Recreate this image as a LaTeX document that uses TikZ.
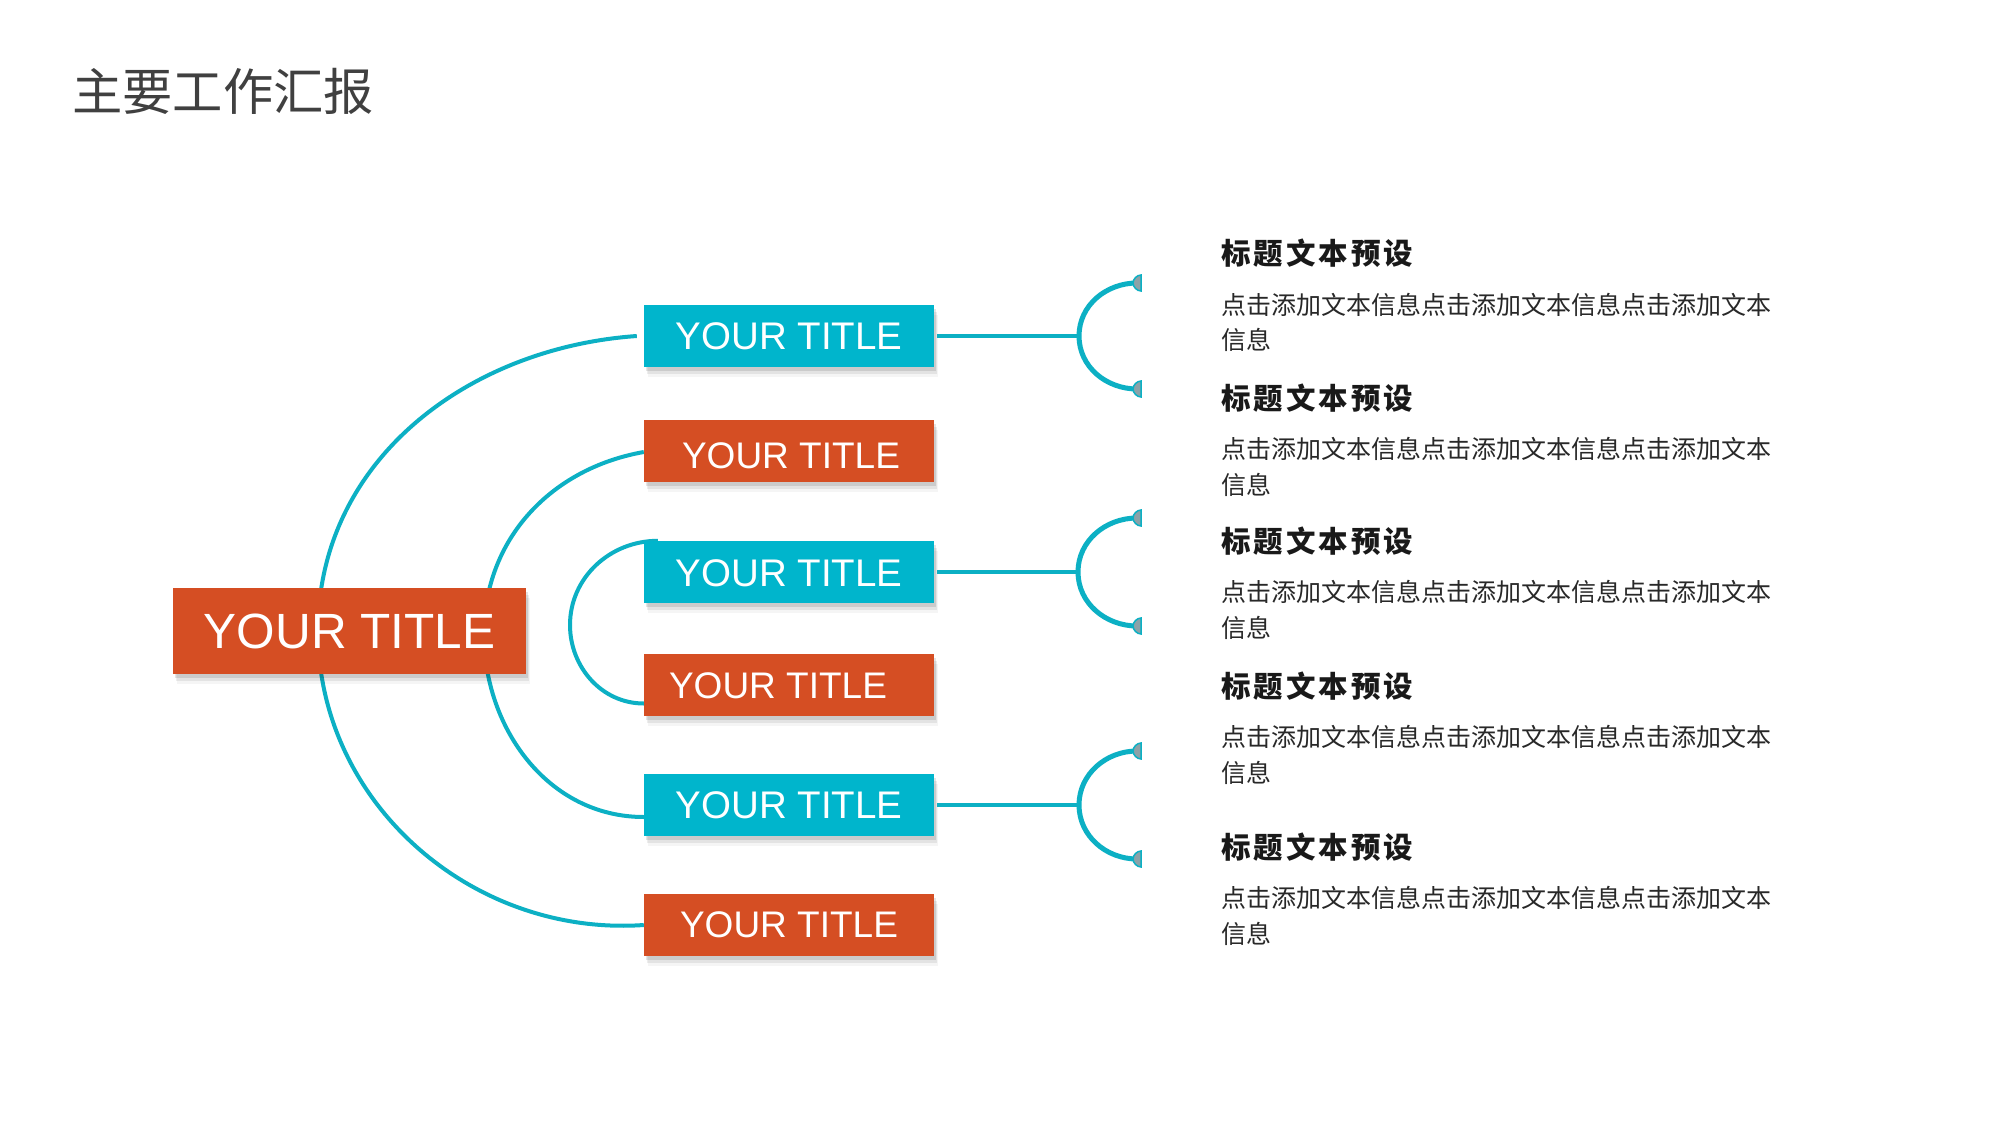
\documentclass[tikz,border=0pt]{standalone}
\usepackage{fontspec}
\setmainfont{Liberation Sans}
\newfontfamily\cjk{Noto Sans CJK SC}
\newfontfamily\cjkbody{Noto Sans CJK SC}
\newfontfamily\cjkhead[LetterSpace=10]{Noto Sans CJK SC}
\usetikzlibrary{shadows,calc}
\definecolor{tcyan}{RGB}{0,181,204}
\definecolor{torange}{RGB}{213,78,35}
\definecolor{tline}{RGB}{12,176,196}
\definecolor{tcap}{RGB}{140,162,168}
\definecolor{ttitle}{RGB}{64,64,64}
\definecolor{tbody}{RGB}{40,40,40}
\definecolor{thead}{RGB}{25,25,25}
\pgfdeclarelayer{bg}
\pgfdeclarelayer{lines}
\pgfsetlayers{bg,lines,main}
\newcommand\lowertext[2]{\raisebox{-#1}[\height][0pt]{#2}}
\begin{document}
\begin{tikzpicture}[x=1pt,y=-1pt,
  shd/.style={drop shadow={fill=black,opacity=0.10,shadow xshift=2pt,shadow yshift=-4pt},
              drop shadow={fill=black,opacity=0.07,shadow xshift=3pt,shadow yshift=-7pt},
              drop shadow={fill=black,opacity=0.04,shadow xshift=4pt,shadow yshift=-10pt}},
  sbox/.style={shd, minimum width=290, minimum height=62, inner sep=0, text=white,
               font=\fontsize{38.5}{40}\selectfont},
  cbox/.style={sbox, fill=tcyan},
  obox/.style={sbox, fill=torange, font=\fontsize{37}{40}\selectfont},
  mbox/.style={shd, fill=torange, minimum width=353, minimum height=86, inner sep=0,
               text=white, font=\fontsize{49.5}{52}\selectfont},
  conn/.style={draw=tline, line width=4},
  brk/.style={draw=tline, line width=5},
  capend/.pic={\draw[tline, line width=1.5, fill=tcap] (4,-8) -- (4,8)
      .. controls (0,8) and (-4,4) .. (-4,0) .. controls (-4,-4) and (0,-8) .. cycle;},
  head/.style={anchor=base west, inner sep=0, text=thead,
               font=\cjkhead\bfseries\fontsize{29.5}{32}\selectfont},
  body/.style={anchor=base west, inner sep=0, align=left, text=tbody,
               font=\cjkbody\fontsize{25}{35.7}\selectfont},
]
\useasboundingbox (0,0) rectangle (2000,1126);
\begin{pgfonlayer}{bg}
  \fill[white] (0,0) rectangle (2000,1126);
\end{pgfonlayer}

% title
\node[anchor=base west, inner sep=0, text=ttitle, font=\cjk\fontsize{50.3}{52}\selectfont]
  (title) at (72,111) {主要工作汇报};

% boxes
\node[mbox] (m) at (349.5,631) {YOUR TITLE};
\node[cbox] (b1) at (789,336) {YOUR TITLE};
\node[obox] (b2) at (789,451) {\hspace*{4pt}\lowertext{4.5pt}{YOUR TITLE}};
\node[cbox] (b3) at (789,572) {\lowertext{1.5pt}{YOUR TITLE}};
\node[obox] (b4) at (789,684.5) {\hspace*{-22pt}\lowertext{1.5pt}{YOUR TITLE}};
\node[cbox] (b5) at (789,805) {YOUR TITLE};
\node[obox] (b6) at (789,925) {YOUR TITLE};

% left arcs
\coordinate (L1) at (318,631);
\coordinate (L2) at (484,634);
\coordinate (L3) at (570,625);
\begin{pgfonlayer}{lines}
  \draw[conn] ($(b1.west)+(-7,0)$) to[out=184,in=90] (L1) to[out=-90,in=184] (b6.west);
  \draw[conn] ($(b2.west)+(0,1)$) to[out=190,in=90] (L2) to[out=-90,in=180] ($(b5.west)+(0,12)$);
  \draw[conn] ($(b3.north west)+(14,0)$) to[out=180,in=90] (L3) to[out=-90,in=180] ($(b4.west)+(0,19)$);
\end{pgfonlayer}

% right brackets
\coordinate (K1) at (1079,336);
\coordinate (T1) at (1137,283);
\coordinate (B1) at (1137,389);
\coordinate (K2) at (1078,572);
\coordinate (T2) at (1137,518);
\coordinate (B2) at (1137,626);
\coordinate (K3) at (1079,805);
\coordinate (T3) at (1137,751);
\coordinate (B3) at (1137,859);

\draw[conn] ($(b1.east)+(3,0)$) -- (K1);
\draw[conn] ($(b3.east)+(3,0)$) -- (K2);
\draw[conn] ($(b5.east)+(3,0)$) -- (K3);
\draw[brk] (T1) to[out=180,in=90] (K1) to[out=-90,in=180] (B1);
\draw[brk] (T2) to[out=180,in=90] (K2) to[out=-90,in=180] (B2);
\draw[brk] (T3) to[out=180,in=90] (K3) to[out=-90,in=180] (B3);
\pic at (T1) {capend};
\pic at (B1) {capend};
\pic at (T2) {capend};
\pic at (B2) {capend};
\pic at (T3) {capend};
\pic at (B3) {capend};

% texts
\node[head] (h1) at (1221,264) {标题文本预设};
\node[body] (t1) at (1221,349.7) {点击添加文本信息点击添加文本信息点击添加文本\\信息};
\node[head] (h2) at (1221,409) {标题文本预设};
\node[body] (t2) at (1221,494.2) {点击添加文本信息点击添加文本信息点击添加文本\\信息};
\node[head] (h3) at (1221,552) {标题文本预设};
\node[body] (t3) at (1221,637.2) {点击添加文本信息点击添加文本信息点击添加文本\\信息};
\node[head] (h4) at (1221,697) {标题文本预设};
\node[body] (t4) at (1221,782.2) {点击添加文本信息点击添加文本信息点击添加文本\\信息};
\node[head] (h5) at (1221,858) {标题文本预设};
\node[body] (t5) at (1221,943.2) {点击添加文本信息点击添加文本信息点击添加文本\\信息};
\end{tikzpicture}
\end{document}
